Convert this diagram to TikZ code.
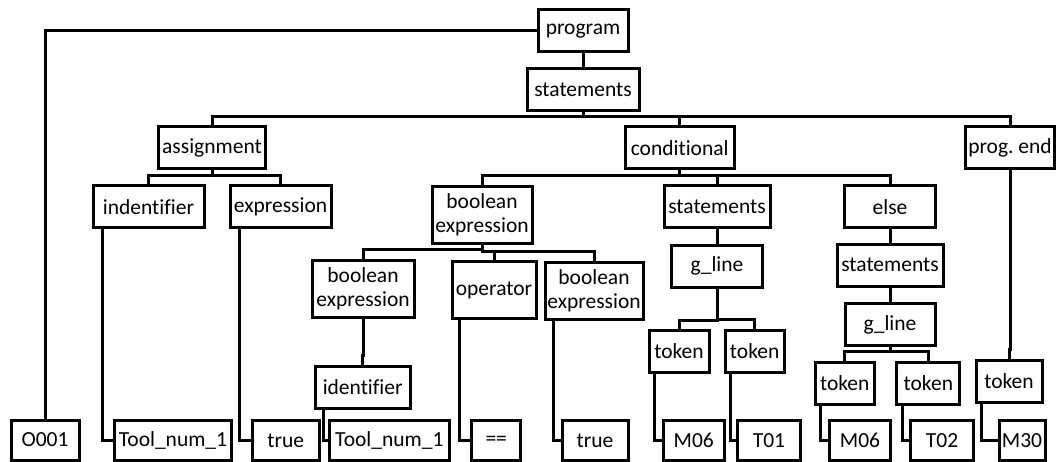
\documentclass[tikz,border=0pt]{standalone}
\usepackage{fontspec}
\setmainfont{Carlito}[Ligatures=CommonOff]
\frenchspacing
\begin{document}
\begin{tikzpicture}[x=1pt,y=-1pt,line join=miter,
  box/.style={draw,line width=3pt,minimum height=42pt,inner sep=2pt,align=center,font=\fontsize{21.5}{24}\selectfont},
  tall/.style={box,minimum height=57pt},
  leaf/.style={box,minimum height=40pt},
  link/.style={line width=3pt}]
\useasboundingbox (0,0) rectangle (1056,462);

% upper levels
\node[box,minimum width=90pt] (prog) at (583,31) {program};
\node[box,minimum width=112pt] (stmts) at (583,89.5) {statements};
\node[box,minimum width=107pt] (assign) at (212,148) {assignment};
\node[box,minimum width=109pt] (cond) at (679.7,148) {conditional};
\node[box,minimum width=89pt] (progend) at (1010,148) {prog. end};
\node[box,minimum width=111pt] (ident) at (148.5,207) {indentifier};
\node[box,minimum width=101pt] (expr) at (280.5,207) {expression};
\node[tall,minimum width=100pt] (bexp) at (482,214.7) {boolean\\expression};
\node[box,minimum width=106pt] (stmtsA) at (717,207) {statements};
\node[box,minimum width=91pt] (else) at (890,207) {else};

% middle levels
\node[tall,minimum width=102pt] (bexpL) at (363,288.5) {boolean\\expression};
\node[tall,minimum width=84pt] (oper) at (494,290.3) {operator};
\node[tall,minimum width=98pt] (bexpR) at (594,290.5) {boolean\\expression};
\node[box,minimum width=95pt] (identB) at (362.7,387) {identifier};
\node[box,minimum width=91pt] (glineA) at (717,266) {g\_line};
\node[box,minimum width=60pt] (tokA) at (679,351.5) {token};
\node[box,minimum width=59pt] (tokB) at (754.6,351) {token};
\node[box,minimum width=106pt] (stmtsB) at (890,265) {statements};
\node[box,minimum width=90pt] (glineB) at (890,324.5) {g\_line};
\node[box,minimum width=59pt] (tokC) at (844.7,383) {token};
\node[box,minimum width=63pt] (tokD) at (928.3,383) {token};
\node[box,minimum width=66pt] (tokE) at (1009,381) {token};

% leaves
\node[leaf,minimum width=68pt] (o001) at (45,440) {O001};
\node[leaf,minimum width=117pt] (toolA) at (173,440.5) {Tool\_num\_1};
\node[leaf,minimum width=67pt] (trueA) at (285.7,440.5) {true};
\node[leaf,minimum width=120pt] (toolB) at (389.3,440.5) {Tool\_num\_1};
\node[leaf,minimum width=49pt] (eq) at (496.2,440.5) {==};
\node[leaf,minimum width=66pt] (trueB) at (595,440.5) {true};
\node[leaf,minimum width=61pt] (mA) at (693.7,440.5) {M06};
\node[leaf,minimum width=63pt] (tA) at (769,440.5) {T01};
\node[leaf,minimum width=61pt] (mB) at (860,440.5) {M06};
\node[leaf,minimum width=63pt] (tB) at (942,440.5) {T02};
\node[leaf,minimum width=46pt] (mC) at (1022,440.5) {M30};

% tree edges
\draw[link] (prog.south) -- (stmts.north);
\draw[link] (prog.west) -| (o001.north);
\foreach \p/\c in {stmts/assign,stmts/cond,stmts/progend,assign/ident,assign/expr,
  cond/bexp,cond/stmtsA,cond/else,bexp/bexpL,bexp/oper,bexp/bexpR,bexpL/identB,
  stmtsA/glineA,glineA/tokA,glineA/tokB,else/stmtsB,stmtsB/glineB,glineB/tokC,
  glineB/tokD,progend/tokE}
  \draw[link] (\c.north) -- ++(0,-9) -| (\p.south);

% leaf edges
\foreach \p/\c/\d in {ident/toolA/11,expr/trueA/11,identB/toolB/10,oper/eq/9,bexpR/trueB/10,
  tokA/mA/7,tokB/tA/7,tokC/mB/7,tokD/tB/7,tokE/mC/7}
  \draw[link] ([xshift=\d pt]\p.south west) |- (\c.west);
\end{tikzpicture}
\end{document}
